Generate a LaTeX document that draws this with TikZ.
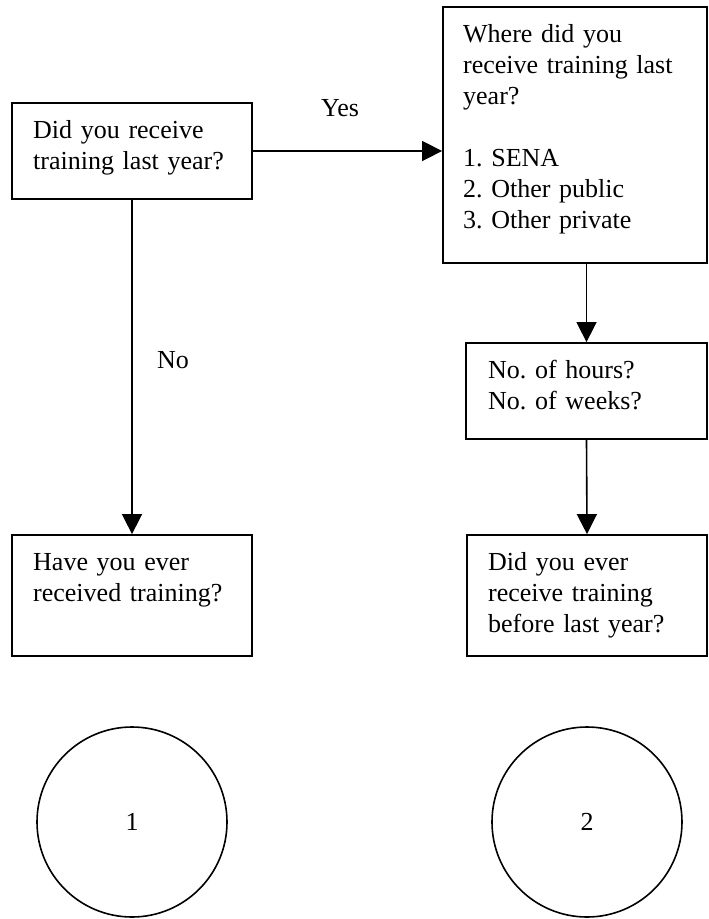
\documentclass[tikz,border=0pt]{standalone}
\usepackage{fontspec}
\setmainfont{Liberation Serif}
\usetikzlibrary{arrows.meta}
\frenchspacing
\tikzset{
	qbox/.style={draw, line width=1.8pt, inner sep=0pt},
	qtext/.style={anchor=base west, align=left, inner sep=0pt, text width=236pt},
	flow/.style={line width=1.6pt, -{Triangle[length=20pt,width=20pt]}},
	endcirc/.style={draw, circle, line width=1.6pt, minimum size=190pt, inner sep=0pt}
}

\begin{document}
\begin{tikzpicture}[x=1pt, y=-1pt, font=\fontsize{26}{31}\selectfont]
			%%%%% FRAME %%%%%
			\useasboundingbox (0, 0) rectangle (709, 919);
			
			%%%%% BOXES %%%%%
			\node[qbox, minimum width=240pt, minimum height=96pt] (did) at (132, 151) {};
			\node[qtext] (didtxt) at (33, 138) {Did you receive\\training last year?};
			
			\node[qbox, minimum width=264pt, minimum height=256pt] (where) at (575, 135) {};
			\node[qtext] (wheretxt) at (463, 42) {Where did you\\receive training last\\year?\\[31pt]1. SENA\\2. Other public\\3. Other private};
			
			\node[qbox, minimum width=241pt, minimum height=96pt] (hours) at (586.5, 391) {};
			\node[qtext] (hourstxt) at (488, 378) {No. of hours?\\No. of weeks?};
			
			\node[qbox, minimum width=240pt, minimum height=121pt] (before) at (587, 595.5) {};
			\node[qtext] (beforetxt) at (488, 570) {Did you ever\\receive training\\before last year?};
			
			\node[qbox, minimum width=240pt, minimum height=121pt] (ever) at (132, 595.5) {};
			\node[qtext] (evertxt) at (33, 570) {Have you ever\\received training?};
			
			%%%%% CONNECTORS %%%%%
			\draw[flow] (did.east) -- (did.east -| where.west);
			\node (yes) at (340, 108) {Yes};
			
			\draw[flow] (did.south) -- (ever.north);
			\node (no) at (173, 360) {No};
			
			\draw[flow] (where.south -| hours.north) -- (hours.north);
			\draw[flow] (hours.south) -- (before.north);
			
			%%%%% CIRCLES %%%%%
			\node[endcirc] (one) at (132, 822) {1};
			\node[endcirc] (two) at (587, 822) {2};
			
		\end{tikzpicture}
\end{document}
